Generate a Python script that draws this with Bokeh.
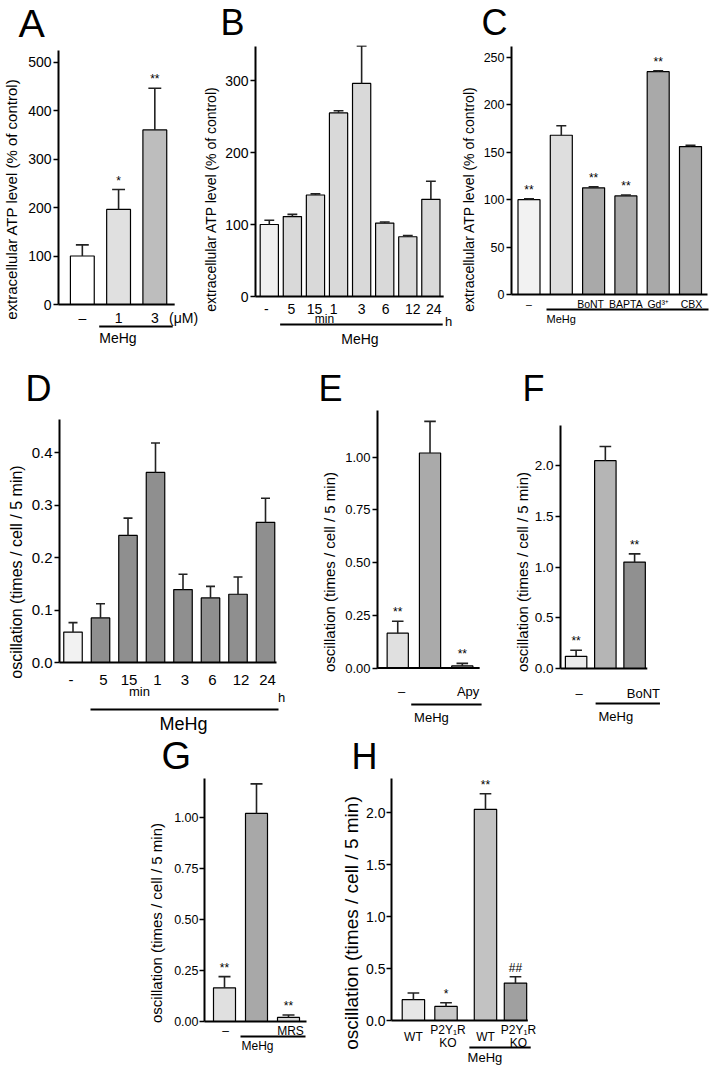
from bokeh.plotting import figure
from bokeh.layouts import column, row
from bokeh.models import Range1d, FixedTicker, Spacer, PrintfTickFormatter, ColumnDataSource
from bokeh.embed import file_html
from bokeh.resources import INLINE
from bokeh.core.properties import value

FONT = "Liberation Sans"
PAGE_W = 716

# ------------------------------------------------------------------ data
a_cats = ["–", "1", "3"]
a_mean = [100, 196, 360]
a_err = [23, 41, 86]
a_sig = ["", "*", "**"]

b_cats = ["-", "5", "15", "1", "3", "6", "12", "24"]
b_mean = [100, 111, 141, 255, 296, 102, 83, 135]
b_err = [6, 3, 1.5, 3, 52, 1.5, 1.5, 25]
b_sig = ["", "", "", "", "", "", "", ""]

c_cats = ["–", "", "BoNT", "BAPTA", "Gd³⁺", "CBX"]
c_mean = [100, 168, 112.5, 104, 235, 156]
c_err = [1, 10, 1, 1, 1, 1.5]
c_sig = ["**", "", "**", "**", "**", ""]

d_cats = ["-", "5", "15", "1", "3", "6", "12", "24"]
d_mean = [0.058, 0.085, 0.242, 0.362, 0.139, 0.123, 0.130, 0.267]
d_err = [0.018, 0.027, 0.033, 0.056, 0.029, 0.022, 0.033, 0.046]
d_sig = ["", "", "", "", "", "", "", ""]

e_cats = ["–", "", "Apy"]
e_mean = [0.165, 1.02, 0.01]
e_err = [0.057, 0.15, 0.012]
e_sig = ["**", "", "**"]

f_cats = ["–", "", "BoNT"]
f_mean = [0.12, 2.05, 1.05]
f_err = [0.06, 0.14, 0.08]
f_sig = ["**", "", "**"]

g_cats = ["–", "", "MRS"]
g_mean = [0.165, 1.02, 0.02]
g_err = [0.055, 0.145, 0.012]
g_sig = ["**", "", "**"]

h_cats = ["WT", "P2Y₁R\nKO", "WT", "P2Y₁R\nKO"]
h_mean = [0.20, 0.135, 2.03, 0.36]
h_err = [0.065, 0.035, 0.15, 0.06]
h_sig = ["", "*", "**", "##"]

ATP_LABEL = "extracellular ATP level (% of control)"
OSC_LABEL = "oscillation (times / cell / 5 min)"


def bare(p):
    p.outline_line_color = None
    p.xgrid.visible = False
    p.ygrid.visible = False
    p.background_fill_color = "white"
    p.border_fill_color = "white"


# ------------------------------------------------------------------ letter strip (page px)
def letter_strip(T, hl, letters):
    p = figure(width=PAGE_W, height=hl, x_range=Range1d(0, PAGE_W),
               y_range=Range1d(T + hl, T), output_backend="svg",
               toolbar_location=None, x_axis_location=None, y_axis_location=None,
               title=None, min_border_left=0, min_border_right=0,
               min_border_top=0, min_border_bottom=0)
    bare(p)
    # letters are anchored at the middle of the em box (0.3465 em above the baseline)
    src = ColumnDataSource(dict(t=[l[0] for l in letters], x=[l[1] for l in letters],
                                y=[l[2] - 0.3465 * l[3] for l in letters],
                                fs=[f"{l[3]}px" for l in letters]))
    p.text(x="x", y="y", text="t", source=src, text_align="left",
           text_baseline="middle", text_font=value(FONT), text_font_size="fs",
           text_color="black")
    return p


# ------------------------------------------------------------------ panel builder
def make_panel(cfg, cats, mean, err, sig):
    L, T, W, H = cfg["box"]
    ax, z, ppu, c0, sp = cfg["axis_x"], cfg["zero_y"], cfg["ppu"], cfg["c0"], cfg["sp"]

    def X(px):
        return (px - c0) / sp

    def Y(py):
        return (z - py) / ppu

    p = figure(width=W, height=H, x_range=Range1d(X(ax), X(L + W)),
               y_range=Range1d(Y(T + H), Y(T)), output_backend="svg",
               toolbar_location=None, x_axis_location=None, title=None,
               min_border_left=ax - L, min_border_right=0, min_border_top=0,
               min_border_bottom=0)
    bare(p)

    ya = p.yaxis[0]
    ya.ticker = FixedTicker(ticks=cfg["ticks"])
    ya.formatter = PrintfTickFormatter(format=cfg["fmt"])
    ya.bounds = (0, cfg["ytop"])
    ya.axis_line_width = 2
    ya.axis_line_color = "black"
    ya.major_tick_out = 5
    ya.major_tick_in = 0
    ya.major_tick_line_width = 1.5
    ya.minor_tick_out = 0
    ya.minor_tick_in = 0
    ya.major_label_standoff = cfg.get("tick_standoff", 2)
    ya.major_label_text_font = FONT
    ya.major_label_text_font_size = f"{cfg['tick_fs']}px"
    ya.major_label_text_color = "black"
    ya.axis_label = cfg["ylabel"]
    ya.axis_label_text_font = FONT
    ya.axis_label_text_font_style = "normal"
    ya.axis_label_text_font_size = f"{cfg['ylabel_fs']}px"
    ya.axis_label_text_color = "black"
    ya.axis_label_standoff = cfg.get("ylabel_standoff", 4)

    xs = cfg.get("positions", list(range(len(mean))))
    bw = cfg["bw"] / sp
    tops = [m + e for m, e in zip(mean, err)]
    cw = cfg["cap"] / sp

    p.vbar(x=xs, top=mean, bottom=0, width=bw, fill_color=cfg["colors"],
           line_color="black", line_width=1.2)
    p.segment(x0=xs, y0=mean, x1=xs, y1=tops, line_color="#222222", line_width=1.6)
    p.segment(x0=[x - cw for x in xs], y0=tops, x1=[x + cw for x in xs], y1=tops,
              line_color="#222222", line_width=1.6)
    p.text(x=xs, y=tops, text=sig, y_offset=-2, text_align="center",
           text_baseline="bottom", text_font=value(FONT),
           text_font_size=f"{cfg.get('sig_fs', 12)}px", text_color="black")

    # baseline (x axis line)
    p.segment(x0=[X(ax - 1)], y0=[0], x1=[X(cfg["base_end"])], y1=[0],
              line_color="black", line_width=2)

    # category labels
    dx = cfg.get("label_dx", [0] * len(xs))
    p.text(x=[x + d / sp for x, d in zip(xs, dx)], y=Y(cfg["label_y"]), text=cats,
           text_align="center", text_baseline="middle", text_font=value(FONT),
           text_font_size=f"{cfg['x_fs']}px", text_color="black",
           text_line_height=cfg.get("lh", 1.2))

    # group line and extra texts
    x0, x1, ly = cfg["line"]
    p.segment(x0=[X(x0)], y0=[Y(ly)], x1=[X(x1)], y1=[Y(ly)], line_color="black",
              line_width=2)
    for (txt, tx, ty, fs, align) in cfg["texts"]:
        p.text(x=[X(tx)], y=[Y(ty)], text=[txt], text_align=align,
               text_baseline="middle", text_font=value(FONT),
               text_font_size=f"{fs}px", text_color="black")
    return p


# ------------------------------------------------------------------ layout config
S1T, S1H = 0, 45          # letter strips
S2T, S2H = 352, 57
S3T, S3H = 734, 43
R1T, R1H = 45, 307        # plot rows
R2T, R2H = 409, 325
R3T, R3H = 777, 291

cfgA = dict(box=(0, R1T, 200, R1H), axis_x=57, zero_y=304, ppu=0.485, c0=81,
            sp=36.5, bw=24, cap=6.5, ytop=524, ticks=[0, 100, 200, 300, 400, 500],
            fmt="%d", tick_fs=14, ylabel=ATP_LABEL, ylabel_fs=15, ylabel_standoff=5,
            label_y=317, x_fs=14, base_end=174,
            colors=["white", "#e0e0e0", "#bdbdbd"],
            line=(98, 172, 326),
            texts=[("(μM)", 183, 317, 14, "center"), ("MeHg", 98, 337, 14, "left")])

cfgB = dict(box=(200, R1T, 255, R1H), axis_x=252, zero_y=296, ppu=0.72, c0=266,
            sp=23.43, bw=18.5, cap=5, ytop=347.5, ticks=[0, 100, 200, 300], fmt="%d",
            tick_fs=14, ylabel=ATP_LABEL, ylabel_fs=14, ylabel_standoff=3,
            label_y=308, x_fs=14, base_end=443,
            label_dx=[-3, -1, -1, -5, 0, 1, 5, 3],
            colors=["#f0f0f0"] + ["#d9d9d9"] * 7,
            line=(277, 442, 324),
            texts=[("min", 322, 318, 12, "center"), ("h", 448, 321, 13, "center"),
                   ("MeHg", 358, 338, 14, "center")])

cfgC = dict(box=(455, R1T, 261, R1H), axis_x=511, zero_y=294, ppu=0.948,
            c0=528.5, sp=32.3, bw=22, cap=5, ytop=262,
            ticks=[0, 50, 100, 150, 200, 250], fmt="%d",
            tick_fs=12.5, ylabel=ATP_LABEL, ylabel_fs=14, ylabel_standoff=4,
            label_y=303, x_fs=10.5, base_end=707,
            label_dx=[0, 0, -3, 0, 0, 1],
            colors=["#f2f2f2", "#dedede"] + ["#a9a9a9"] * 4,
            line=(546, 708, 309),
            texts=[("MeHg", 546, 318, 11, "left")])

cfgD = dict(box=(0, R2T, 318, R2H), axis_x=59, zero_y=662, ppu=525, c0=72.5,
            sp=27.5, bw=18.5, cap=4.5, ytop=0.463, ticks=[0, 0.1, 0.2, 0.3, 0.4],
            fmt="%.1f", tick_fs=15, ylabel=OSC_LABEL, ylabel_fs=16, ylabel_standoff=4,
            label_y=679, x_fs=15, base_end=276,
            label_dx=[-2, 3, 1, 2, 2, 2, 3, 2],
            colors=["#f2f2f2"] + ["#8f8f8f"] * 7,
            line=(90, 278, 709),
            texts=[("min", 139, 691, 13, "center"), ("h", 281, 697, 13, "center"),
                   ("MeHg", 183, 723, 18, "center")])

cfgE = dict(box=(318, R2T, 192, R2H), axis_x=372, zero_y=667.5, ppu=210.8,
            c0=393, sp=33.5, bw=22, cap=6, ytop=1.222,
            ticks=[0, 0.25, 0.5, 0.75, 1.0], fmt="%.2f",
            tick_fs=13, ylabel=OSC_LABEL, ylabel_fs=15, ylabel_standoff=4,
            label_y=691, x_fs=13, base_end=478,
            label_dx=[4, 0, 6],
            colors=["#e0e0e0", "#aaaaaa", "#aaaaaa"],
            line=(407, 480, 704),
            texts=[("MeHg", 410, 717, 13, "left")])

cfgF = dict(box=(510, R2T, 206, R2H), axis_x=556, zero_y=668, ppu=101.4, c0=572,
            sp=30, bw=22, cap=6, ytop=2.40, ticks=[0, 0.5, 1.0, 1.5, 2.0], fmt="%.1f",
            tick_fs=13.5, ylabel=OSC_LABEL, ylabel_fs=15, ylabel_standoff=1,
            label_y=693, x_fs=13, base_end=645,
            label_dx=[3, 0, 9],
            colors=["#ebebeb", "#b5b5b5", "#909090"],
            line=(592, 658, 703),
            texts=[("MeHg", 595, 716, 13, "left")])

cfgG = dict(box=(140, R3T, 198, R3H), axis_x=204, zero_y=1021, ppu=204, c0=224,
            sp=32, bw=22, cap=6, ytop=1.19, ticks=[0, 0.25, 0.5, 0.75, 1.0],
            fmt="%.2f", tick_fs=12.5, tick_standoff=1, ylabel=OSC_LABEL, ylabel_fs=15,
            ylabel_standoff=6, label_y=1030, x_fs=12, base_end=306,
            label_dx=[1, 0, 2],
            colors=["#e0e0e0", "#a8a8a8", "#d8d8d8"],
            line=(240, 305, 1036),
            texts=[("MeHg", 241, 1045, 12, "left")])

cfgH = dict(box=(338, R3T, 200, R3H), axis_x=387, zero_y=1020, ppu=104,
            c0=409.5, sp=33.5, positions=[0, 1, 2.21, 3.13],
            bw=23, cap=6, ytop=2.33, ticks=[0, 0.5, 1.0, 1.5, 2.0], fmt="%.1f",
            tick_fs=14, tick_standoff=1, ylabel=OSC_LABEL, ylabel_fs=19,
            ylabel_standoff=1, label_y=1036, x_fs=12, lh=0.95, base_end=527,
            label_dx=[0, 2, 0, 3],
            colors=["#e6e6e6", "#c8c8c8", "#c2c2c2", "#a0a0a0"],
            line=(467, 530, 1047),
            texts=[("MeHg", 483, 1057, 13, "center")])

# panel letters: (letter, left x, baseline y, font size) in page pixels
letters1 = [("A", 18, 36.5, 39.5), ("B", 220, 34, 36), ("C", 481, 34.5, 36)]
letters2 = [("D", 25, 400, 36), ("E", 318, 400.5, 36), ("F", 522, 400.5, 36)]
letters3 = [("G", 161, 768.5, 38), ("H", 351, 768, 36)]

pA = make_panel(cfgA, a_cats, a_mean, a_err, a_sig)
pB = make_panel(cfgB, b_cats, b_mean, b_err, b_sig)
pC = make_panel(cfgC, c_cats, c_mean, c_err, c_sig)
pD = make_panel(cfgD, d_cats, d_mean, d_err, d_sig)
pE = make_panel(cfgE, e_cats, e_mean, e_err, e_sig)
pF = make_panel(cfgF, f_cats, f_mean, f_err, f_sig)
pG = make_panel(cfgG, g_cats, g_mean, g_err, g_sig)
pH = make_panel(cfgH, h_cats, h_mean, h_err, h_sig)

layout = column(
    letter_strip(S1T, S1H, letters1),
    row(pA, pB, pC),
    letter_strip(S2T, S2H, letters2),
    row(pD, pE, pF),
    letter_strip(S3T, S3H, letters3),
    row(Spacer(width=140, height=R3H), pG, pH, Spacer(width=178, height=R3H)),
)

with open("out.html", "w") as fh:
    fh.write(file_html(layout, INLINE))
